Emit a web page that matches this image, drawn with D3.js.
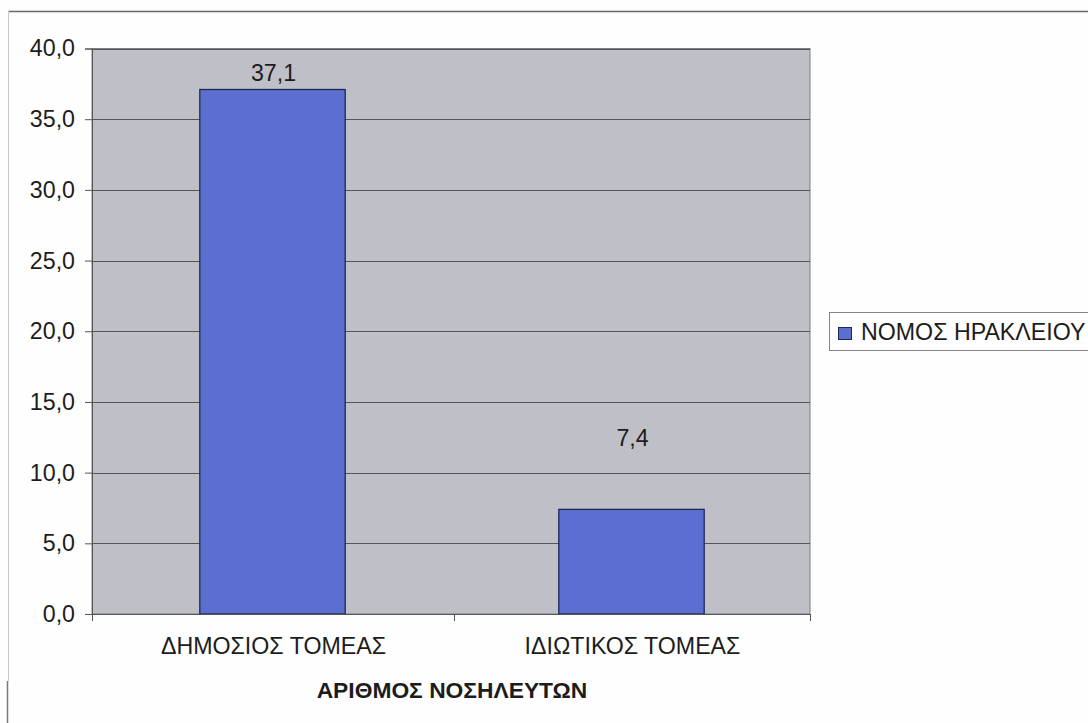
<!DOCTYPE html>
<html>
<head>
<meta charset="utf-8">
<script src="https://cdn.jsdelivr.net/npm/d3@7"></script>
<style>
  html, body { margin: 0; padding: 0; background: #fdfefd; }
  svg { display: block; }
  text { font-family: "Liberation Sans", Arial, sans-serif; fill: #1c1c1c; }
</style>
</head>
<body>
<svg id="chart" width="1088" height="723"></svg>
<script>
// Hospital staff share by sector, Heraklion prefecture
const categories = ["ΔΗΜΟΣΙΟΣ ΤΟΜΕΑΣ", "ΙΔΙΩΤΙΚΟΣ ΤΟΜΕΑΣ"];
const values = [37.1, 7.4];
const valueLabels = ["37,1", "7,4"];
const yTicks = [0, 5, 10, 15, 20, 25, 30, 35, 40];
const yTickLabels = ["0,0", "5,0", "10,0", "15,0", "20,0", "25,0", "30,0", "35,0", "40,0"];
const seriesName = "ΝΟΜΟΣ ΗΡΑΚΛΕΙΟΥ";
const axisTitle = "ΑΡΙΘΜΟΣ ΝΟΣΗΛΕΥΤΩΝ";

// Layout
const plot = { left: 92, right: 810, top: 48.5, bottom: 614 };
const labelRaise = [8, 63]; // distance of each value label's baseline above its bar
const fontSize = 23.2;

const svg = d3.select("#chart");

// Outer frame lines
svg.append("line").attr("x1", 8).attr("x2", 1088).attr("y1", 11.5).attr("y2", 11.5)
  .attr("stroke", "#6a6a6a").attr("stroke-width", 1.5);
svg.append("line").attr("x1", 8.5).attr("x2", 8.5).attr("y1", 11).attr("y2", 681)
  .attr("stroke", "#c8c8c8").attr("stroke-width", 1);
svg.append("line").attr("x1", 7.5).attr("x2", 7.5).attr("y1", 681).attr("y2", 723)
  .attr("stroke", "#777").attr("stroke-width", 1.5);

const x = d3.scaleBand().domain(categories).range([plot.left, plot.right]).paddingInner(0).paddingOuter(0);
const y = d3.scaleLinear().domain([0, 40]).range([plot.bottom, plot.top]);

// Plot area background
svg.append("rect")
  .attr("x", plot.left).attr("y", plot.top)
  .attr("width", plot.right - plot.left).attr("height", plot.bottom - plot.top)
  .attr("fill", "#bfc0c7").attr("stroke", "#7d7d82").attr("stroke-width", 1);

// Horizontal gridlines
svg.append("g").selectAll("line").data(yTicks.slice(1)).join("line")
  .attr("x1", plot.left).attr("x2", plot.right)
  .attr("y1", d => Math.round(y(d)) + 0.5).attr("y2", d => Math.round(y(d)) + 0.5)
  .attr("stroke", "#555558").attr("stroke-width", 1);

// Bars
const barW = x.bandwidth() * 0.405;
svg.append("g").selectAll("rect").data(values).join("rect")
  .attr("x", (d, i) => x(categories[i]) + (x.bandwidth() - barW) / 2 + 1)
  .attr("y", d => y(d))
  .attr("width", barW)
  .attr("height", d => y(0) - y(d))
  .attr("fill", "#5a6fcf")
  .attr("stroke", "#1f2850").attr("stroke-width", 1.3);

// Value labels
svg.append("g").selectAll("text").data(values).join("text")
  .attr("x", (d, i) => x(categories[i]) + x.bandwidth() / 2 + 2)
  .attr("y", (d, i) => y(d) - labelRaise[i])
  .attr("text-anchor", "middle")
  .attr("font-size", fontSize)
  .text((d, i) => valueLabels[i]);

// Y axis
const yAxis = d3.axisLeft(y).tickValues(yTicks).tickSize(7).tickPadding(10)
  .tickFormat((d, i) => yTickLabels[i]);
const gy = svg.append("g").attr("transform", `translate(${plot.left},0)`).call(yAxis);
gy.select(".domain").attr("stroke", "#555");
gy.selectAll(".tick line").attr("stroke", "#555");
gy.selectAll(".tick text").attr("font-size", fontSize).attr("fill", "#1c1c1c")
  .attr("font-family", "Liberation Sans, Arial, sans-serif");

// X axis
const xAxis = d3.axisBottom(x).tickSize(0).tickPadding(24);
const gx = svg.append("g").attr("transform", `translate(0,${plot.bottom})`).call(xAxis);
gx.select(".domain").attr("stroke", "#555");
gx.selectAll(".tick text").attr("font-size", fontSize).attr("fill", "#1c1c1c")
  .attr("dx", 2)
  .attr("font-family", "Liberation Sans, Arial, sans-serif");

// Category separator ticks below the axis
const sepPositions = [plot.left, x(categories[1]) + 3, plot.right];
svg.append("g").selectAll("line").data(sepPositions).join("line")
  .attr("x1", d => d + 0.5).attr("x2", d => d + 0.5)
  .attr("y1", plot.bottom).attr("y2", plot.bottom + 7)
  .attr("stroke", "#555");

// Axis title
svg.append("text")
  .attr("x", (plot.left + plot.right) / 2 + 1)
  .attr("y", 698)
  .attr("text-anchor", "middle")
  .attr("font-size", 22.8)
  .attr("font-weight", "bold")
  .text(axisTitle);

// Legend
const legend = svg.append("g");
legend.append("rect").attr("x", 829.5).attr("y", 312.5).attr("width", 300).attr("height", 38)
  .attr("fill", "#ffffff").attr("stroke", "#858585").attr("stroke-width", 1);
legend.append("rect").attr("x", 838.5).attr("y", 327.5).attr("width", 13).attr("height", 12)
  .attr("fill", "#5a6fcf").attr("stroke", "#1f2850").attr("stroke-width", 1);
legend.append("text").attr("x", 861).attr("y", 339.5)
  .attr("font-size", fontSize).text(seriesName);
</script>
</body>
</html>
